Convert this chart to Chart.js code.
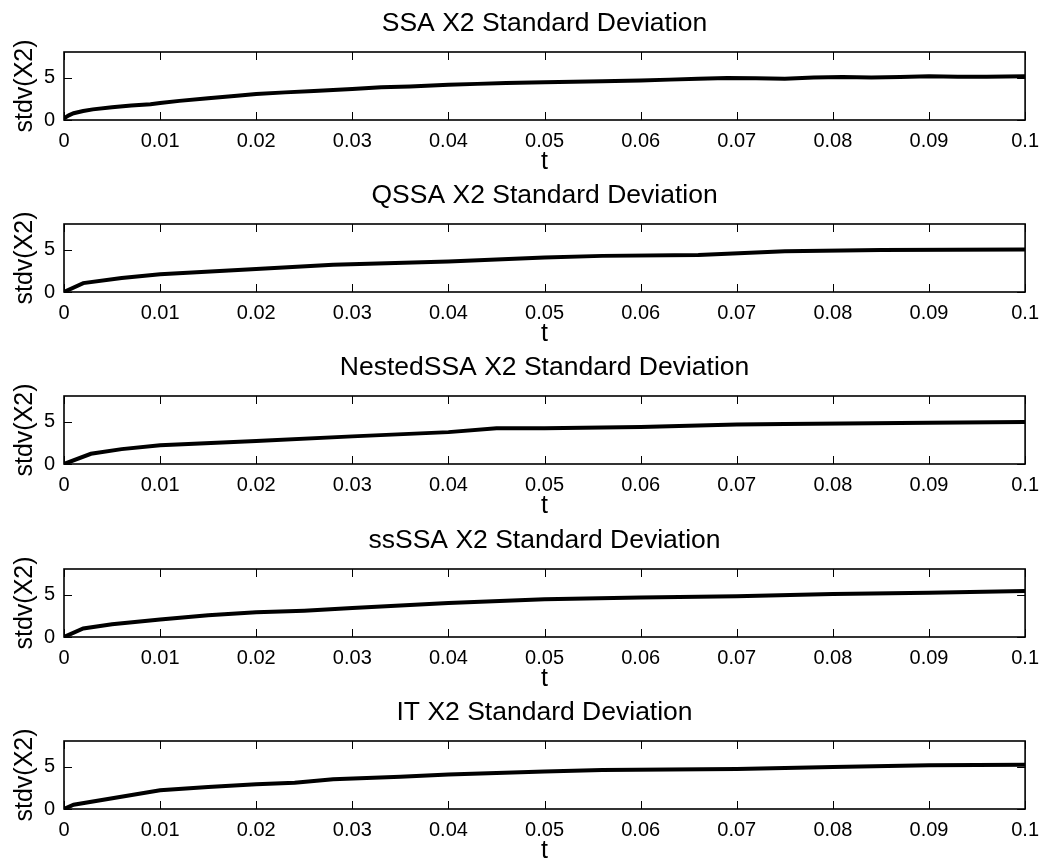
<!DOCTYPE html>
<html>
<head>
<meta charset="utf-8">
<script src="https://cdn.jsdelivr.net/npm/chart.js@4.4.1/dist/chart.umd.min.js"></script>
<style>
  html, body { margin: 0; padding: 0; background: #fff; width: 1048px; height: 867px; overflow: hidden; }
  .panel { position: absolute; left: 0; width: 1048px; height: 190px; }
</style>
</head>
<body>
<script>
// Shared axis ticks
const xTickValues = [0, 0.01, 0.02, 0.03, 0.04, 0.05, 0.06, 0.07, 0.08, 0.09, 0.1];
const xTickLabels = ['0', '0.01', '0.02', '0.03', '0.04', '0.05', '0.06', '0.07', '0.08', '0.09', '0.1'];
const yTickValues = [0, 5];
const yTickLabels = ['0', '5'];

// Standard deviation of X2 over time, one series per simulation method
const methodNames = ['SSA', 'QSSA', 'NestedSSA', 'ssSSA', 'IT'];

const ssaT    = [0, 0.0005, 0.001, 0.002, 0.003, 0.005, 0.007, 0.009, 0.01, 0.012, 0.015, 0.018, 0.02, 0.023, 0.026, 0.03, 0.033, 0.036, 0.04, 0.043, 0.046, 0.05, 0.053, 0.056, 0.06, 0.063, 0.066, 0.069, 0.072, 0.075, 0.078, 0.081, 0.084, 0.087, 0.09, 0.093, 0.096, 0.1];
const ssaStdv = [0.2, 0.55, 0.8, 1.05, 1.25, 1.5, 1.7, 1.85, 2.0, 2.25, 2.55, 2.85, 3.05, 3.25, 3.4, 3.65, 3.85, 3.95, 4.15, 4.25, 4.35, 4.45, 4.5, 4.55, 4.65, 4.75, 4.85, 4.95, 4.9, 4.85, 5.0, 5.05, 5.0, 5.05, 5.15, 5.1, 5.1, 5.15];

const qssaT    = [0, 0.002, 0.006, 0.01, 0.02, 0.028, 0.04, 0.05, 0.056, 0.066, 0.075, 0.085, 0.1];
const qssaStdv = [0, 1.05, 1.65, 2.1, 2.7, 3.2, 3.6, 4.05, 4.25, 4.35, 4.8, 4.95, 5.0];

const nestedT    = [0, 0.0028, 0.006, 0.01, 0.02, 0.03, 0.04, 0.045, 0.05, 0.06, 0.07, 0.075, 0.09, 0.1];
const nestedStdv = [0, 1.2, 1.75, 2.2, 2.7, 3.25, 3.75, 4.2, 4.22, 4.35, 4.65, 4.72, 4.85, 4.95];

const ssT    = [0, 0.002, 0.005, 0.01, 0.015, 0.02, 0.025, 0.03, 0.04, 0.05, 0.06, 0.07, 0.08, 0.09, 0.1];
const ssStdv = [0, 1.0, 1.5, 2.05, 2.55, 2.9, 3.1, 3.4, 4.0, 4.45, 4.65, 4.8, 5.05, 5.2, 5.4];

const itT    = [0, 0.001, 0.01, 0.015, 0.02, 0.024, 0.028, 0.035, 0.04, 0.05, 0.056, 0.07, 0.08, 0.09, 0.1];
const itStdv = [0, 0.5, 2.2, 2.6, 2.9, 3.1, 3.5, 3.8, 4.05, 4.4, 4.6, 4.7, 4.95, 5.15, 5.2];

const seriesT = [ssaT, qssaT, nestedT, ssT, itT];
const seriesStdv = [ssaStdv, qssaStdv, nestedStdv, ssStdv, itStdv];

// Panel placement
const panelTops = [0, 172, 344, 517, 689];
const T_LABEL_GAP = 42;   // plot bottom to centre of the "t" label

const FONT = "'Liberation Sans', Arial, Helvetica, sans-serif";
const PLOT_TOP = 52;      // plot box top inside each canvas
const PLOT_H = 68;        // plot box height
const CANVAS_H = 190;
const AXIS_H = CANVAS_H - PLOT_TOP - PLOT_H;

// Box around the plot area, inward tick marks, and the panel title
const boxAndTitle = {
  id: 'boxAndTitle',
  afterDatasetsDraw(chart, args, opts) {
    const { ctx, chartArea: { left, right, top, bottom }, scales: { x, y } } = chart;
    ctx.save();
    ctx.strokeStyle = '#000';
    ctx.lineWidth = 1;
    const len = 8;
    ctx.beginPath();
    x.ticks.forEach(t => {
      const px = Math.round(x.getPixelForValue(t.value)) + 0.5;
      ctx.moveTo(px, bottom); ctx.lineTo(px, bottom - len);
      ctx.moveTo(px, top); ctx.lineTo(px, top + len);
    });
    y.ticks.forEach(t => {
      const py = Math.round(y.getPixelForValue(t.value)) + 0.5;
      ctx.moveTo(left, py); ctx.lineTo(left + len, py);
      ctx.moveTo(right, py); ctx.lineTo(right - len, py);
    });
    ctx.stroke();
    ctx.lineWidth = 1.6;
    ctx.strokeRect(left, top, right - left, bottom - top);
    ctx.fillStyle = '#000';
    ctx.font = '26.5px ' + FONT;
    ctx.textAlign = 'center';
    ctx.textBaseline = 'middle';
    ctx.fillText(opts.text, (left + right) / 2, top - 28);
    ctx.restore();
  }
};

methodNames.forEach((name, i) => {
  const canvas = document.createElement('canvas');
  canvas.className = 'panel';
  canvas.style.top = panelTops[i] + 'px';
  canvas.width = 1048;
  canvas.height = CANVAS_H;
  document.body.appendChild(canvas);

  const points = seriesT[i].map((t, k) => ({ x: t, y: seriesStdv[i][k] }));

  new Chart(canvas, {
    type: 'line',
    data: {
      datasets: [{
        label: name,
        data: points,
        borderColor: '#000',
        borderWidth: 4,
        pointRadius: 0,
        tension: 0,
        fill: false
      }]
    },
    plugins: [boxAndTitle],
    options: {
      responsive: false,
      animation: false,
      events: [],
      layout: { padding: { left: 0, right: 18, top: PLOT_TOP, bottom: 0 } },
      plugins: {
        legend: { display: false },
        tooltip: { enabled: false },
        title: { display: false },
        boxAndTitle: { text: name + ' X2 Standard Deviation' }
      },
      scales: {
        x: {
          type: 'linear',
          min: 0,
          max: 0.1,
          afterBuildTicks: s => { s.ticks = xTickValues.map(v => ({ value: v })); },
          afterFit: s => { s.height = AXIS_H; },
          grid: { display: false, drawTicks: false },
          border: { display: false },
          ticks: {
            padding: 9,
            color: '#000',
            maxRotation: 0,
            autoSkip: false,
            font: { family: FONT, size: 20 },
            callback: (v, k) => xTickLabels[k]
          },
          title: {
            display: true,
            text: 't',
            color: '#000',
            font: { family: FONT, size: 25, lineHeight: 1.2 },
            padding: { top: 0, bottom: AXIS_H - T_LABEL_GAP - 15 }
          }
        },
        y: {
          type: 'linear',
          min: 0,
          max: 8,
          afterBuildTicks: s => { s.ticks = yTickValues.map(v => ({ value: v })); },
          afterFit: s => { s.width = 64; },
          grid: { display: false, drawTicks: false },
          border: { display: false },
          ticks: {
            padding: 9,
            color: '#000',
            autoSkip: false,
            font: { family: FONT, size: 20 },
            callback: (v, k) => yTickLabels[k]
          },
          title: {
            display: true,
            text: 'stdv(X2)',
            color: '#000',
            font: { family: FONT, size: 25, lineHeight: 1.2 },
            padding: { top: 10, bottom: 0 }
          }
        }
      }
    }
  });
});
</script>
</body>
</html>
